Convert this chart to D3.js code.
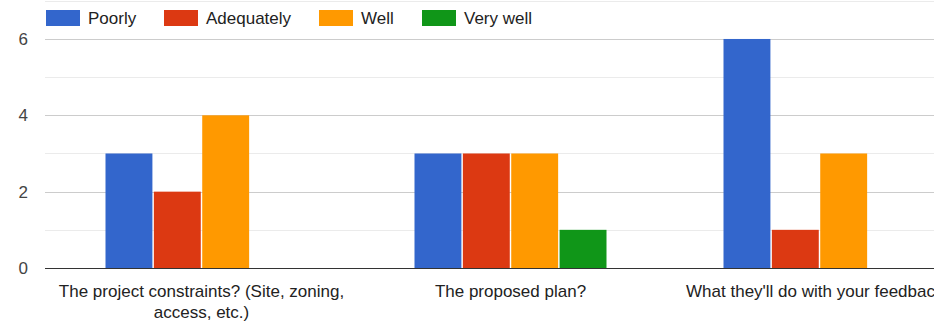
<!DOCTYPE html>
<html>
<head>
<meta charset="utf-8">
<script src="https://cdn.jsdelivr.net/npm/d3@7"></script>
<style>
  html, body { margin: 0; padding: 0; background: #fff; overflow: hidden; }
  svg { display: block; font-family: Arial, "Liberation Sans", sans-serif; }
</style>
</head>
<body>
<svg id="chart" width="934" height="323"></svg>
<script>
// Survey questions (x categories)
const categories = [
  ["The project constraints? (Site, zoning,", "access, etc.)"],
  ["The proposed plan?"],
  ["What they'll do with your feedback?"]
];
// Answer options (series)
const seriesNames = ["Poorly", "Adequately", "Well", "Very well"];
const seriesColors = ["#3366cc", "#dc3912", "#ff9900", "#109618"];
// Response counts per question, one array per answer option
const poorly     = [3, 3, 6];
const adequately = [2, 3, 1];
const well       = [4, 3, 3];
const veryWell   = [0, 1, 0];
const yMajorTicks = [0, 2, 4, 6];
const yMinorTicks = [1, 3, 5, 7];

const seriesValues = [poorly, adequately, well, veryWell];

const svg = d3.select("#chart");
const W = 934;
const plotLeft = 45, baseline = 268, plotTop = 0.8;
const groupStep = 309, groupWidth = 192;

const x = d3.scaleBand()
  .domain(d3.range(categories.length))
  .range([plotLeft + 2, plotLeft + 2 + groupStep * categories.length]);

const y = d3.scaleLinear().domain([0, 7]).range([baseline, plotTop]);

const inner = d3.scaleBand()
  .domain(d3.range(seriesNames.length))
  .range([0, groupWidth])
  .paddingInner(0.03);

// Grid lines
svg.append("g").selectAll("line").data(yMinorTicks).join("line")
  .attr("x1", plotLeft).attr("x2", W)
  .attr("y1", d => Math.round(y(d)) + 0.5).attr("y2", d => Math.round(y(d)) + 0.5)
  .attr("stroke", "#ebebeb").attr("stroke-width", 1);
svg.append("g").selectAll("line").data(yMajorTicks.filter(d => d !== 0)).join("line")
  .attr("x1", plotLeft).attr("x2", W)
  .attr("y1", d => Math.round(y(d)) + 0.5).attr("y2", d => Math.round(y(d)) + 0.5)
  .attr("stroke", "#cccccc").attr("stroke-width", 1);

// Y tick labels
svg.append("g").selectAll("text").data(yMajorTicks).join("text")
  .attr("x", 28).attr("y", d => y(d) + 6)
  .attr("text-anchor", "end")
  .attr("font-size", 17).attr("fill", "#444")
  .text(d => d);

// Bars
const groups = svg.append("g").selectAll("g").data(categories).join("g")
  .attr("transform", (d, i) => `translate(${x(i) + x.bandwidth() / 2 - groupWidth / 2},0)`);

groups.selectAll("rect")
  .data((d, i) => seriesValues.map((vals, s) => ({ s, v: vals[i] })).filter(e => e.v > 0))
  .join("rect")
  .attr("x", e => inner(e.s))
  .attr("width", inner.bandwidth())
  .attr("y", e => y(e.v))
  .attr("height", e => baseline - y(e.v))
  .attr("fill", e => seriesColors[e.s]);

// Baseline
svg.append("line")
  .attr("x1", plotLeft).attr("x2", W)
  .attr("y1", baseline + 0.5).attr("y2", baseline + 0.5)
  .attr("stroke", "#333").attr("stroke-width", 1);

// Category labels
const labels = svg.append("g").selectAll("text").data(categories).join("text")
  .attr("text-anchor", "middle")
  .attr("font-size", 17).attr("fill", "#222")
  .attr("x", (d, i) => x(i) + x.bandwidth() / 2)
  .attr("y", 297);
labels.selectAll("tspan").data(d => d).join("tspan")
  .attr("x", function () { return d3.select(this.parentNode).attr("x"); })
  .attr("dy", (d, j) => j === 0 ? 0 : 21)
  .text(d => d);

// Legend
const legendX = [46, 164, 319, 422];
const legend = svg.append("g").selectAll("g").data(seriesNames).join("g")
  .attr("transform", (d, i) => `translate(${legendX[i]},10)`);
legend.append("rect")
  .attr("width", 34).attr("height", 16)
  .attr("fill", (d, i) => seriesColors[i]);
legend.append("text")
  .attr("x", 42).attr("y", 14)
  .attr("font-size", 17).attr("fill", "#222")
  .text(d => d);
</script>
</body>
</html>
